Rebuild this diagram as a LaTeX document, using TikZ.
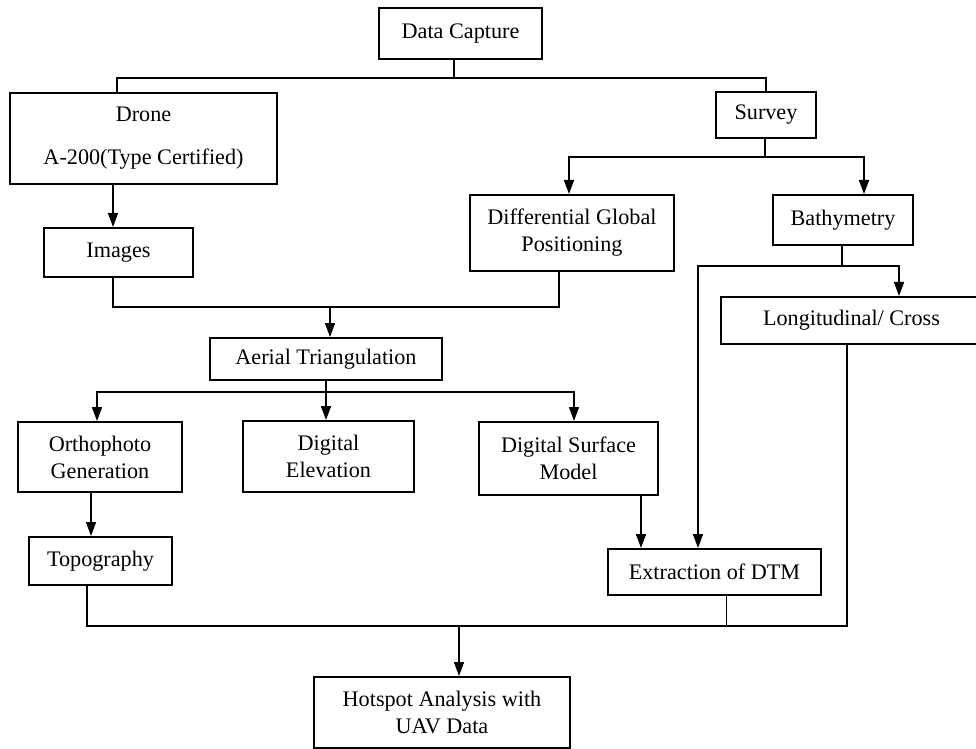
\documentclass[tikz,border=0pt]{standalone}
\usepackage{fontspec}
\setmainfont{Liberation Serif}
\usetikzlibrary{arrows.meta}
\begin{document}
\begin{tikzpicture}[x=0.5pt,y=-0.5pt,
        box/.style={draw,line width=1pt,inner sep=0pt,align=center,font=\fontsize{11.1}{13.5}\selectfont},
        link/.style={line width=0.8pt},
        arr/.style={link,-{Triangle[length=7pt,width=5pt]}}]
        \useasboundingbox (0,0) rectangle (976,749);
        %% Boxes
        \node[box,minimum width=81.5pt,minimum height=25.5pt] (cap) at (460.5,33.5) {Data Capture};
        \node[box,minimum width=133.5pt,minimum height=45.5pt] (drone) at (143.5,138.5) {Drone\\[8pt]A-200(Type Certified)};
        \node[box,minimum width=50pt,minimum height=23pt] (survey) at (766,115) {Survey};
        \node[box,minimum width=74.5pt,minimum height=24.5pt] (images) at (118.5,252.5) {Images};
        \node[box,minimum width=102pt,minimum height=38pt] (dgps) at (572,233) {Differential Global\\Positioning};
        \node[box,minimum width=70pt,minimum height=25pt] (bathy) at (843,220) {Bathymetry};
        \node[box,minimum width=130.5pt,minimum height=23.5pt] (longi) at (851.5,320.5) {Longitudinal/ Cross};
        \node[box,minimum width=116pt,minimum height=21pt] (aerial) at (326,359) {Aerial Triangulation};
        \node[box,minimum width=82pt,minimum height=35pt] (ortho) at (100,457) {Orthophoto\\Generation};
        \node[box,minimum width=85.5pt,minimum height=35.5pt] (dem) at (328.5,456.5) {Digital\\Elevation};
        \node[box,minimum width=89.5pt,minimum height=36.5pt] (dsm) at (568.5,458.5) {Digital Surface\\Model};
        \node[box,minimum width=71.5pt,minimum height=24pt] (topo) at (100.5,561) {Topography};
        \node[box,minimum width=106.5pt,minimum height=23pt] (dtm) at (714.5,572) {Extraction of DTM};
        \node[box,minimum width=128pt,minimum height=35.5pt] (hot) at (442,712.5) {Hotspot Analysis with\\UAV Data};
        %% Data capture split
        \coordinate (capbus) at (454,78);
        \draw[link] (cap.south -| capbus) -- (capbus);
        \draw[link] (drone.north -| 117,0) |- (capbus) -| (survey.north);
        %% Survey split
        \coordinate (svbus) at (765,157);
        \draw[link] (survey.south -| svbus) -- (svbus);
        \draw[arr] (svbus) -| (dgps.north -| 569,0);
        \draw[arr] (svbus) -| (bathy.north -| 864,0);
        %% Drone to images
        \draw[arr] (drone.south -| 113,0) -- (images.north -| 113,0);
        %% Images and DGPS to aerial triangulation
        \coordinate (atbus) at (330,307);
        \draw[link] (images.south -| 113,0) |- (atbus) -| (dgps.south -| 559,0);
        \draw[arr] (atbus) -- (aerial.north -| atbus);
        %% Aerial triangulation outputs
        \coordinate (aebus) at (326,392);
        \draw[link] (aerial.south -| aebus) -- (aebus);
        \draw[arr] (aebus) -| (ortho.north -| 97,0);
        \draw[arr] (aebus) -- (dem.north -| aebus);
        \draw[arr] (aebus) -| (dsm.north -| 574,0);
        \draw[arr] (ortho.south -| 91,0) -- (topo.north -| 91,0);
        %% Bathymetry split
        \coordinate (babus) at (842,266);
        \draw[link] (bathy.south -| babus) -- (babus);
        \draw[arr] (babus) -| (longi.north -| 899,0);
        \draw[arr] (babus) -| (dtm.north -| 698,0);
        \draw[arr] (dsm.south -| 641,0) -- (dtm.north -| 641,0);
        %% Merge to hotspot analysis
        \coordinate (hsbus) at (459,626);
        \coordinate (hsend) at (847,626);
        \draw[link,line width=1pt] (topo.south -| 87,0) |- (hsend) -- (longi.south -| hsend);
        \draw[line width=0.4pt] (dtm.south -| 726,0) -- (726,626);
        \draw[arr] (hsbus) -- (hot.north -| hsbus);
\end{tikzpicture}
\end{document}
